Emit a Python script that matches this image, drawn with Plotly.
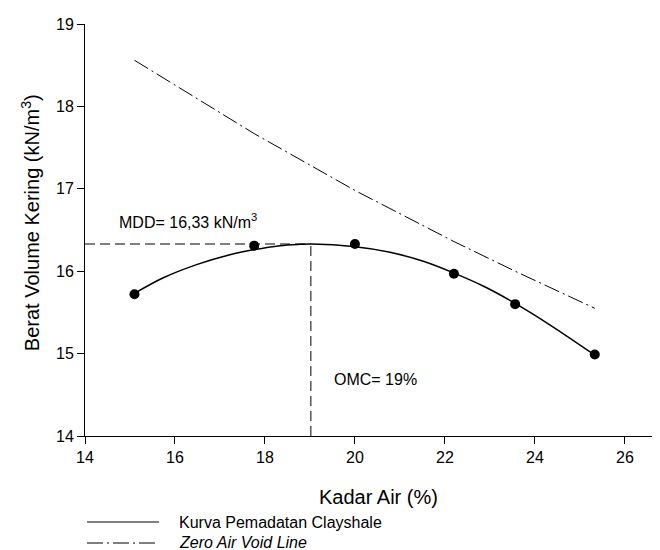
import plotly.graph_objects as go

# Measured compaction points
water_content = [15.1, 17.76, 20.0, 22.2, 23.56, 25.33]
dry_density = [15.72, 16.31, 16.33, 15.97, 15.60, 14.99]

# Fitted compaction curve
curve_x = [15.1, 15.74, 16.48, 17.22, 17.74, 18.33, 18.78, 19.04, 19.96, 20.78, 21.52, 22.19, 22.85, 23.56, 24.33, 25.31]
curve_y = [15.73, 15.92, 16.08, 16.20, 16.26, 16.31, 16.326, 16.33, 16.30, 16.23, 16.12, 15.98, 15.82, 15.61, 15.35, 14.99]

# Zero air void line
zav_x = [15.1, 17.76, 20.0, 22.2, 23.56, 25.33]
zav_y = [18.56, 17.67, 16.98, 16.36, 16.00, 15.55]

# Optimum values
omc = 19.02
mdd = 16.33

x_ticks = [14, 16, 18, 20, 22, 24, 26]
y_ticks = [14, 15, 16, 17, 18, 19]

FONT = "Arial, 'Liberation Sans', sans-serif"

fig = go.Figure()

fig.add_trace(go.Scatter(x=[14, omc], y=[mdd, mdd], mode="lines",
                         line=dict(color="black", width=1, dash="10px,5px"),
                         showlegend=False, hoverinfo="skip"))
fig.add_trace(go.Scatter(x=[omc, omc], y=[14, mdd], mode="lines",
                         line=dict(color="black", width=1, dash="10px,5px"),
                         showlegend=False, hoverinfo="skip"))
fig.add_trace(go.Scatter(x=zav_x, y=zav_y, mode="lines",
                         line=dict(color="black", width=1, dash="16px,4px,2px,4px"),
                         name="Zero Air Void Line", showlegend=False))
fig.add_trace(go.Scatter(x=curve_x, y=curve_y, mode="lines",
                         line=dict(color="black", width=1.5, shape="spline", smoothing=1),
                         name="Kurva Pemadatan Clayshale", showlegend=False))
fig.add_trace(go.Scatter(x=water_content, y=dry_density, mode="markers",
                         marker=dict(color="black", size=10),
                         showlegend=False))

axis_common = dict(showgrid=False, zeroline=False, showline=True, linecolor="black",
                   linewidth=1, ticks="outside", ticklen=7, tickwidth=1, tickcolor="black",
                   tickfont=dict(family=FONT, size=16, color="black"))

fig.update_xaxes(range=[14, 26.78], tickvals=x_ticks, ticktext=[str(v) for v in x_ticks],
                 **axis_common)
fig.update_yaxes(range=[14, 19], tickvals=y_ticks, ticktext=[str(v) for v in y_ticks],
                 **axis_common)

annotations = [
    dict(x=0.5096, y=-0.148, xref="paper", yref="paper", text="Kadar Air (%)",
         showarrow=False, font=dict(family=FONT, size=20, color="black"),
         xanchor="center", yanchor="middle"),
    dict(x=-0.0957, y=0.519, xref="paper", yref="paper",
         text="Berat Volume Kering (kN/m<sup>3</sup>)", textangle=-90,
         showarrow=False, font=dict(family=FONT, size=20, color="black"),
         xanchor="center", yanchor="middle"),
    dict(x=14.71, y=16.61, xref="x", yref="y", text="MDD= 16,33 kN/m<sup>3</sup>",
         showarrow=False, font=dict(family=FONT, size=16, color="black"),
         xanchor="left", yanchor="middle"),
    dict(x=19.50, y=14.68, xref="x", yref="y", text="OMC= 19%",
         showarrow=False, font=dict(family=FONT, size=16, color="black"),
         xanchor="left", yanchor="middle"),
    dict(x=(177 - 85) / 575, y=(436 - 522) / 412, xref="paper", yref="paper",
         text="Kurva Pemadatan Clayshale", showarrow=False,
         font=dict(family=FONT, size=16, color="black"), xanchor="left", yanchor="middle"),
    dict(x=(177 - 85) / 575, y=(436 - 542) / 412, xref="paper", yref="paper",
         text="<i>Zero Air Void Line</i>", showarrow=False,
         font=dict(family=FONT, size=16, color="black"), xanchor="left", yanchor="middle"),
]

shapes = [
    dict(type="line", xref="paper", yref="paper",
         x0=(87 - 85) / 575, x1=(159 - 85) / 575,
         y0=(436 - 522) / 412, y1=(436 - 522) / 412,
         line=dict(color="black", width=1)),
    dict(type="line", xref="paper", yref="paper",
         x0=(87 - 85) / 575, x1=(159 - 85) / 575,
         y0=(436 - 543) / 412, y1=(436 - 543) / 412,
         line=dict(color="black", width=1, dash="16px,4px,2px,4px")),
]

# The page body has an 8px margin, so the figure is drawn 8px smaller and offset.
fig.update_layout(
    width=652, height=542,
    margin=dict(l=77, r=0, t=16, b=114),
    paper_bgcolor="white", plot_bgcolor="white",
    font=dict(family=FONT, color="black"),
    annotations=annotations, shapes=shapes,
    showlegend=False,
)

fig.write_html("out.html")
